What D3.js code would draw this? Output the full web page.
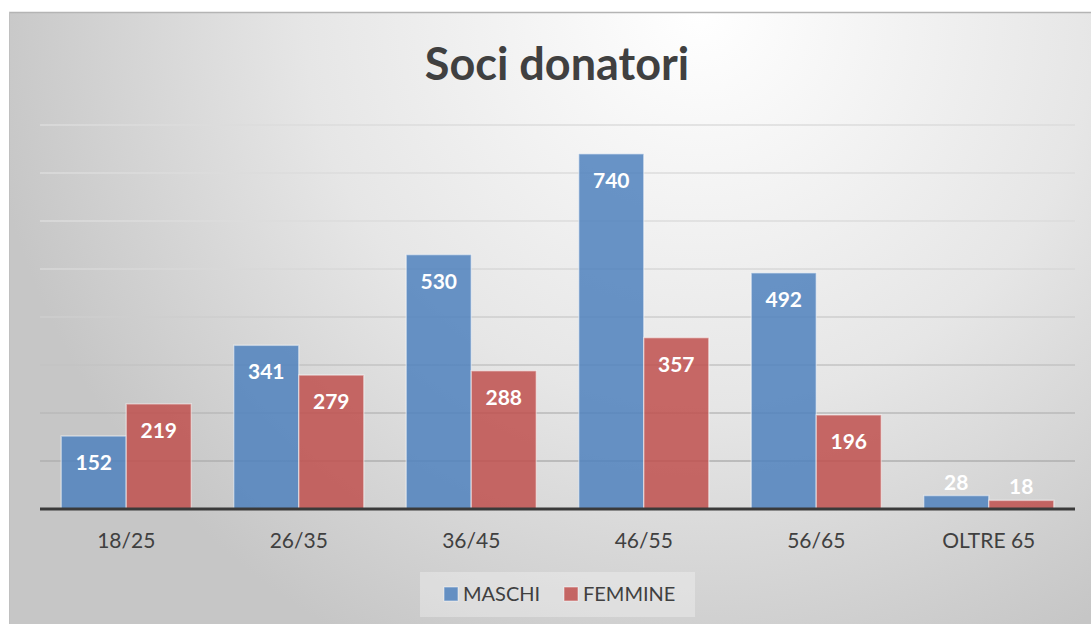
<!DOCTYPE html>
<html>
<head>
<meta charset="utf-8">
<script src="https://cdn.jsdelivr.net/npm/d3@7"></script>
<style>
  body { margin: 0; background: #fff; }
  text { font-family: Lato, "Open Sans", sans-serif; }
</style>
</head>
<body>
<div id="chart"></div>
<script>
// data
var categories = ["18/25", "26/35", "36/45", "46/55", "56/65", "OLTRE 65"];
var seriesNames = ["MASCHI", "FEMMINE"];
var maschi = [152, 341, 530, 740, 492, 28];
var femmine = [219, 279, 288, 357, 196, 18];
var yTicks = [0, 100, 200, 300, 400, 500, 600, 700, 800];
var title = "Soci donatori";

var W = 1091, H = 624;
var margin = {top: 125, right: 16, bottom: 115, left: 40},
  width = W - margin.left - margin.right,
  height = H - margin.top - margin.bottom;

var svg = d3.select("#chart").append("svg")
  .attr("width", W)
  .attr("height", H);

var defs = svg.append("defs");
var bg = defs.append("radialGradient")
  .attr("id", "bg")
  .attr("gradientUnits", "userSpaceOnUse")
  .attr("cx", 700).attr("cy", 10).attr("r", 720);
bg.append("stop").attr("offset", "0").attr("stop-color", "#ffffff");
bg.append("stop").attr("offset", "0.55").attr("stop-color", "#e6e6e6");
bg.append("stop").attr("offset", "1").attr("stop-color", "#c6c6c6");

var gridGrad = defs.append("linearGradient")
  .attr("id", "gridGrad")
  .attr("gradientUnits", "userSpaceOnUse")
  .attr("x1", 0).attr("y1", margin.top).attr("x2", 0).attr("y2", margin.top + height);
gridGrad.append("stop").attr("offset", "0").attr("stop-color", "#dcdcdc");
gridGrad.append("stop").attr("offset", "1").attr("stop-color", "#8a8a8a");

// background frame
svg.append("rect")
  .attr("x", 9).attr("y", 12)
  .attr("width", W - 9).attr("height", H - 12)
  .attr("fill", "url(#bg)");
svg.append("line")
  .attr("x1", 9).attr("x2", W).attr("y1", 12.5).attr("y2", 12.5)
  .attr("stroke", "#b4b4b4").attr("stroke-width", 1.5);
svg.append("line")
  .attr("x1", 9.5).attr("x2", 9.5).attr("y1", 12).attr("y2", H)
  .attr("stroke", "#c0c0c0").attr("stroke-width", 1);

svg.append("text")
  .attr("x", 557).attr("y", 80)
  .attr("text-anchor", "middle")
  .style("font-size", "45px")
  .style("font-weight", "bold")
  .style("fill", "#404040")
  .text(title);

var g = svg.append("g")
  .attr("transform", "translate(" + margin.left + "," + margin.top + ")");

var x = d3.scaleBand()
  .domain(categories)
  .range([0, width])
  .paddingInner(0.246)
  .paddingOuter(0.123);

var x1 = d3.scaleBand()
  .domain(seriesNames)
  .range([0, x.bandwidth()]);

var y = d3.scaleLinear()
  .domain([0, 800])
  .range([height, 0]);

var color = d3.scaleOrdinal()
  .domain(seriesNames)
  .range(["#4f81bd", "#c0504d"]);

// gridlines
g.selectAll(".grid")
  .data(yTicks.slice(1))
  .enter()
  .append("line")
  .attr("class", "grid")
  .attr("x1", 0).attr("x2", width)
  .attr("y1", function(d) { return y(d); })
  .attr("y2", function(d) { return y(d); })
  .attr("stroke", "url(#gridGrad)")
  .attr("stroke-width", 1.5);

var rows = categories.map(function(c, i) {
  return {cat: c, values: [
    {name: seriesNames[0], value: maschi[i]},
    {name: seriesNames[1], value: femmine[i]}
  ]};
});

var groups = g.selectAll(".group")
  .data(rows)
  .enter()
  .append("g")
  .attr("transform", function(d) { return "translate(" + x(d.cat) + ",0)"; });

groups.selectAll("rect")
  .data(function(d) { return d.values; })
  .enter()
  .append("rect")
  .attr("x", function(d) { return x1(d.name); })
  .attr("y", function(d) { return y(d.value); })
  .attr("width", x1.bandwidth())
  .attr("height", function(d) { return height - y(d.value); })
  .attr("fill", function(d) { return color(d.name); })
  .attr("fill-opacity", 0.85)
  .attr("stroke", "#ffffff")
  .attr("stroke-opacity", 0.45)
  .attr("stroke-width", 1.5);

groups.selectAll(".val")
  .data(function(d) { return d.values; })
  .enter()
  .append("text")
  .attr("class", "val")
  .attr("x", function(d) { return x1(d.name) + x1.bandwidth() / 2; })
  .attr("y", function(d) {
    var top = y(d.value);
    return (height - top) < 40 ? top - 6 : top + 34;
  })
  .attr("text-anchor", "middle")
  .style("font-size", "21px")
  .style("font-weight", "bold")
  .style("fill", "#ffffff")
  .text(function(d) { return d.value; });

// baseline
g.append("line")
  .attr("x1", 0).attr("x2", width)
  .attr("y1", height).attr("y2", height)
  .attr("stroke", "#3a3a3a").attr("stroke-width", 3);

// category labels
g.selectAll(".cat")
  .data(categories)
  .enter()
  .append("text")
  .attr("x", function(d) { return x(d) + x.bandwidth() / 2; })
  .attr("y", height + 39)
  .attr("text-anchor", "middle")
  .style("font-size", "21px")
  .style("fill", "#404040")
  .text(function(d) { return d; });

// legend
var legend = svg.append("g");
legend.append("rect")
  .attr("x", 420).attr("y", 572)
  .attr("width", 275).attr("height", 45)
  .attr("fill", "#ffffff").attr("fill-opacity", 0.3);

var legX = [444, 564];
var items = legend.selectAll(".leg")
  .data(seriesNames)
  .enter()
  .append("g")
  .attr("transform", function(d, i) { return "translate(" + legX[i] + ",587)"; });
items.append("rect")
  .attr("width", 14).attr("height", 14)
  .attr("fill", function(d) { return color(d); })
  .attr("fill-opacity", 0.85)
  .attr("stroke", "#ffffff").attr("stroke-opacity", 0.5);
items.append("text")
  .attr("x", 19).attr("y", 14)
  .style("font-size", "20px")
  .style("fill", "#404040")
  .text(function(d) { return d; });
</script>
</body>
</html>
